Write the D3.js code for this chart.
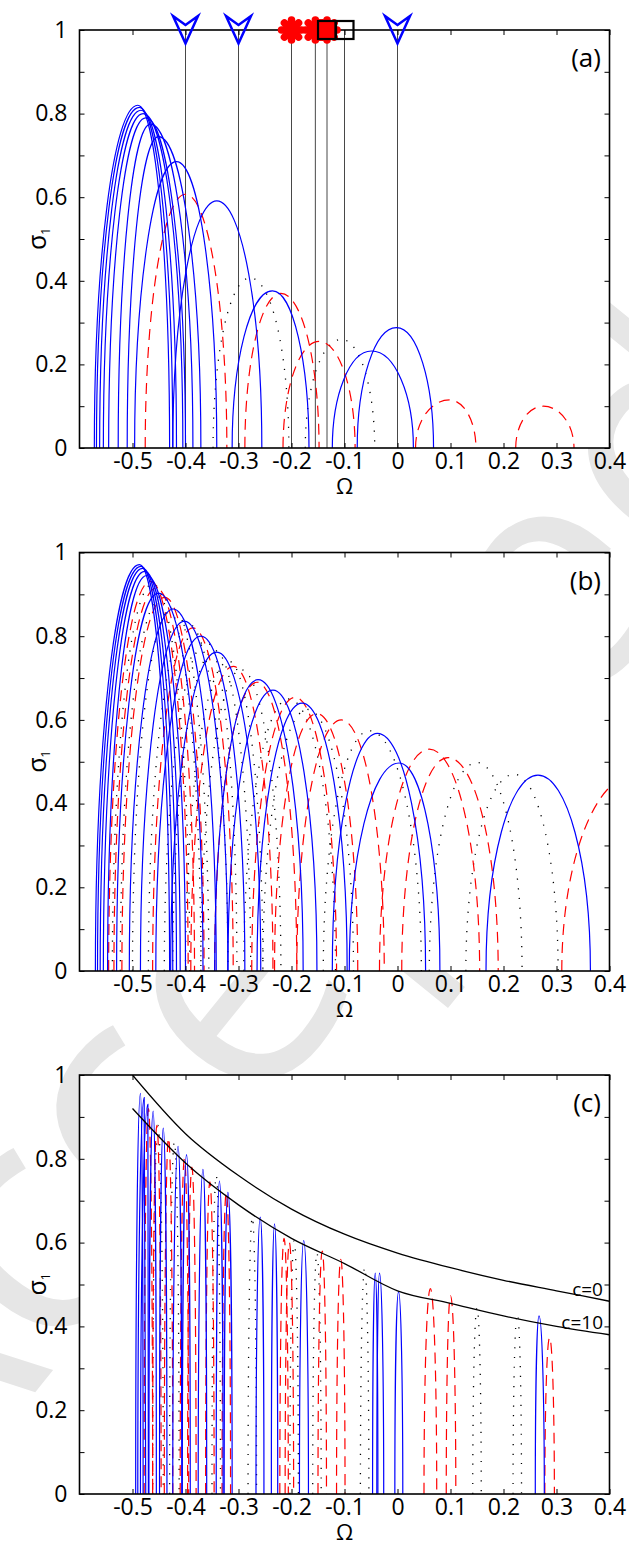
<html>
<head>
<meta charset="utf-8" />
<script src="https://cdn.jsdelivr.net/npm/d3@7/dist/d3.min.js"></script>
<style>
body { margin: 0; background: #fff; }
text { font-family: "Open Sans", "Liberation Sans", sans-serif; }
</style>
</head>
<body>
<svg id="chart" width="629" height="1546"></svg>
<script>

// ---- data ----
// each arch: [left root, peak Omega, right root, peak sigma]
var blueA = [
  [-0.572, -0.490, -0.430, 0.820],
  [-0.568, -0.487, -0.424, 0.815],
  [-0.562, -0.484, -0.417, 0.808],
  [-0.555, -0.480, -0.405, 0.800],
  [-0.545, -0.475, -0.400, 0.790],
  [-0.527, -0.466, -0.386, 0.775],
  [-0.510, -0.451, -0.371, 0.745],
  [-0.496, -0.417, -0.341, 0.685],
  [-0.424, -0.341, -0.256, 0.591],
  [-0.312, -0.236, -0.167, 0.376],
  [-0.123, -0.049, 0.030, 0.232],
  [-0.076, -0.002, 0.068, 0.288]
];
var redA = [
  [-0.476, -0.400, -0.322, 0.607],
  [-0.288, -0.220, -0.148, 0.370],
  [-0.216, -0.148, -0.080, 0.255],
  [0.034, 0.098, 0.148, 0.115],
  [0.223, 0.275, 0.333, 0.100]
];
var dotA = [
  [-0.348, -0.278, -0.205, 0.407],
  [-0.174, -0.106, -0.043, 0.260]
];
var vlinesA = [-0.4, -0.3, -0.2, -0.155, -0.133, -0.1, 0];
var trianglesA = [-0.4, -0.3, 0];
var starsA = [-0.2, -0.155, -0.133];
var squaresA = [-0.133, -0.1];

var blueB = [
  [-0.570, -0.487, -0.430, 0.971],
  [-0.566, -0.484, -0.424, 0.967],
  [-0.561, -0.481, -0.417, 0.962],
  [-0.555, -0.477, -0.410, 0.955],
  [-0.547, -0.473, -0.400, 0.945],
  [-0.530, -0.451, -0.367, 0.903],
  [-0.506, -0.423, -0.342, 0.865],
  [-0.485, -0.402, -0.320, 0.836],
  [-0.456, -0.371, -0.288, 0.800],
  [-0.428, -0.341, -0.258, 0.762],
  [-0.345, -0.263, -0.178, 0.696],
  [-0.320, -0.235, -0.152, 0.671],
  [-0.265, -0.180, -0.095, 0.640],
  [-0.123, -0.038, 0.053, 0.568],
  [-0.091, 0.003, 0.080, 0.497],
  [0.167, 0.265, 0.364, 0.468]
];
var redB = [
  [-0.545, -0.466, -0.395, 0.931],
  [-0.535, -0.455, -0.383, 0.915],
  [-0.520, -0.439, -0.365, 0.893],
  [-0.462, -0.386, -0.310, 0.820],
  [-0.390, -0.310, -0.235, 0.728],
  [-0.345, -0.265, -0.190, 0.690],
  [-0.275, -0.193, -0.115, 0.654],
  [-0.232, -0.152, -0.075, 0.615],
  [-0.190, -0.106, -0.025, 0.600],
  [-0.034, 0.060, 0.155, 0.530],
  [0.008, 0.095, 0.190, 0.510],
  [0.310, 0.450, 0.590, 0.470]
];
var dotB = [
  [-0.538, -0.462, -0.392, 0.925],
  [-0.523, -0.445, -0.371, 0.895],
  [-0.500, -0.425, -0.356, 0.870],
  [-0.470, -0.395, -0.320, 0.830],
  [-0.440, -0.360, -0.303, 0.785],
  [-0.424, -0.345, -0.277, 0.766],
  [-0.400, -0.318, -0.254, 0.740],
  [-0.371, -0.295, -0.220, 0.720],
  [-0.290, -0.205, -0.117, 0.650],
  [-0.254, -0.170, -0.083, 0.625],
  [-0.140, -0.053, 0.045, 0.574],
  [0.060, 0.150, 0.235, 0.498],
  [0.129, 0.220, 0.303, 0.470]
];

var blueC = [
  [-0.494, -0.485, -0.480, 0.956],
  [-0.490, -0.478, -0.475, 0.946],
  [-0.485, -0.471, -0.470, 0.930],
  [-0.469, -0.461, -0.455, 0.914],
  [-0.449, -0.442, -0.435, 0.873],
  [-0.424, -0.414, -0.407, 0.830],
  [-0.406, -0.398, -0.391, 0.810],
  [-0.376, -0.367, -0.360, 0.775],
  [-0.342, -0.336, -0.329, 0.747],
  [-0.327, -0.320, -0.312, 0.720],
  [-0.267, -0.259, -0.252, 0.661],
  [-0.238, -0.232, -0.226, 0.645],
  [-0.185, -0.177, -0.168, 0.605],
  [-0.047, -0.042, -0.037, 0.527],
  [-0.039, -0.034, -0.026, 0.527],
  [-0.005, 0.002, 0.010, 0.483],
  [0.260, 0.267, 0.277, 0.425]
];
var redC = [
  [-0.478, -0.470, -0.462, 0.920],
  [-0.462, -0.454, -0.446, 0.880],
  [-0.440, -0.432, -0.424, 0.850],
  [-0.410, -0.402, -0.394, 0.800],
  [-0.396, -0.388, -0.380, 0.780],
  [-0.362, -0.354, -0.346, 0.745],
  [-0.331, -0.323, -0.315, 0.720],
  [-0.222, -0.214, -0.206, 0.610],
  [-0.212, -0.204, -0.196, 0.600],
  [-0.150, -0.142, -0.134, 0.580],
  [-0.115, -0.107, -0.099, 0.560],
  [0.050, 0.062, 0.074, 0.490],
  [0.092, 0.100, 0.110, 0.473],
  [0.278, 0.287, 0.296, 0.373]
];
var dotC = [
  [-0.462, -0.452, -0.442, 0.880],
  [-0.430, -0.421, -0.412, 0.840],
  [-0.350, -0.342, -0.334, 0.760],
  [-0.282, -0.274, -0.266, 0.660],
  [-0.203, -0.195, -0.187, 0.604],
  [-0.160, -0.152, -0.144, 0.575],
  [-0.070, -0.062, -0.054, 0.540],
  [0.142, 0.150, 0.158, 0.444],
  [0.218, 0.226, 0.234, 0.430]
];
// envelope curves in (c)
var envOmega = [-0.5, -0.4, -0.3, -0.2, -0.1, 0, 0.1, 0.2, 0.3, 0.4];
var envC0  = [1.00, 0.86, 0.76, 0.68, 0.62, 0.575, 0.54, 0.51, 0.485, 0.46];
var envC10 = [0.92, 0.79, 0.69, 0.61, 0.55, 0.485, 0.455, 0.425, 0.40, 0.38];

var xTicks = [-0.5, -0.4, -0.3, -0.2, -0.1, 0, 0.1, 0.2, 0.3, 0.4];
var yTicks = [0, 0.1, 0.2, 0.3, 0.4, 0.5, 0.6, 0.7, 0.8, 0.9, 1];
var yLabelled = [0, 0.2, 0.4, 0.6, 0.8, 1];

// ---- layout ----
var svg = d3.select("#chart");
var left = 79.5, right = 609.5;
var panels = [
  {id: "a", top: 30,    bottom: 448,  blue: blueA, red: redA, dot: dotA},
  {id: "b", top: 552.5, bottom: 971,  blue: blueB, red: redB, dot: dotB},
  {id: "c", top: 1075,  bottom: 1494, blue: blueC, red: redC, dot: dotC}
];

svg.append("rect").attr("width", 629).attr("height", 1546).attr("fill", "#fff");

// faint watermark, sits under the white axes so it only shows in the margins
svg.append("text")
  .attr("transform", "translate(-78,1532) rotate(-51)")
  .attr("text-anchor", "start")
  .attr("font-size", 330)
  .attr("fill", "#e6e6e6")
  .text("Accepted");

function archPath(x, y, d) {
  var l = d[0], p = d[1], r = d[2], h = d[3];
  var k = 0.5523;
  var y0 = y(0), yh = y(h);
  var path = d3.path();
  path.moveTo(x(l), y0);
  path.bezierCurveTo(x(l), y0 + k * (yh - y0), x(p) - k * (x(p) - x(l)), yh, x(p), yh);
  path.bezierCurveTo(x(p) + k * (x(r) - x(p)), yh, x(r), y0 + k * (yh - y0), x(r), y0);
  return path.toString();
}

function fmt(d) { return String(+d.toFixed(1)); }

panels.forEach(function(pn) {
  var x = d3.scaleLinear().domain([-0.6, 0.4]).range([left, right]);
  var y = d3.scaleLinear().domain([0, 1]).range([pn.bottom, pn.top]);
  var g = svg.append("g").attr("class", "panel-" + pn.id);

  // white axes background
  g.append("rect")
    .attr("x", left).attr("y", pn.top)
    .attr("width", right - left).attr("height", pn.bottom - pn.top)
    .attr("fill", "#fff");

  g.append("defs").append("clipPath").attr("id", "clip" + pn.id)
    .append("rect")
    .attr("x", left).attr("y", pn.top)
    .attr("width", right - left).attr("height", pn.bottom - pn.top);

  var plot = g.append("g").attr("clip-path", "url(#clip" + pn.id + ")");

  if (pn.id === "a") {
    plot.selectAll("line.v").data(vlinesA).enter().append("line")
      .attr("class", "v")
      .attr("x1", function(d) { return x(d); }).attr("x2", function(d) { return x(d); })
      .attr("y1", y(1)).attr("y2", y(0))
      .attr("stroke", "#333").attr("stroke-width", 0.9);
  }

  plot.selectAll("path.dot").data(pn.dot).enter().append("path")
    .attr("class", "dot")
    .attr("d", function(d) { return archPath(x, y, d); })
    .attr("fill", "none").attr("stroke", "#000")
    .attr("stroke-width", 1.3).attr("stroke-dasharray", "1.2 8.5");

  plot.selectAll("path.red").data(pn.red).enter().append("path")
    .attr("class", "red")
    .attr("d", function(d) { return archPath(x, y, d); })
    .attr("fill", "none").attr("stroke", "#ff0000")
    .attr("stroke-width", 1.2).attr("stroke-dasharray", "11 7");

  plot.selectAll("path.blue").data(pn.blue).enter().append("path")
    .attr("class", "blue")
    .attr("d", function(d) { return archPath(x, y, d); })
    .attr("fill", "none").attr("stroke", "#0000ff")
    .attr("stroke-width", 1.2);

  if (pn.id === "c") {
    var env = d3.line()
      .x(function(d, i) { return x(envOmega[i]); })
      .y(function(d) { return y(d); })
      .curve(d3.curveMonotoneX);
    plot.append("path").datum(envC0).attr("d", env)
      .attr("fill", "none").attr("stroke", "#000").attr("stroke-width", 1.3);
    plot.append("path").datum(envC10).attr("d", env)
      .attr("fill", "none").attr("stroke", "#000").attr("stroke-width", 1.3);
    g.append("text").attr("x", 603).attr("y", 1296)
      .attr("text-anchor", "end").attr("font-size", 19).text("c=0");
    g.append("text").attr("x", 603).attr("y", 1329)
      .attr("text-anchor", "end").attr("font-size", 19).text("c=10");
  }

  // axes (ticks pointing inward, box drawn separately)
  var axB = g.append("g").attr("transform", "translate(0," + pn.bottom + ")")
    .call(d3.axisBottom(x).tickValues(xTicks).tickSize(-5).tickPadding(5).tickFormat(fmt));
  var axT = g.append("g").attr("transform", "translate(0," + pn.top + ")")
    .call(d3.axisTop(x).tickValues(xTicks).tickSize(-5).tickFormat(""));
  var axL = g.append("g").attr("transform", "translate(" + left + ",0)")
    .call(d3.axisLeft(y).tickValues(yTicks).tickSize(-5).tickPadding(12)
      .tickFormat(function(d) { return yLabelled.indexOf(d) >= 0 ? fmt(d) : ""; }));
  var axR = g.append("g").attr("transform", "translate(" + right + ",0)")
    .call(d3.axisRight(y).tickValues(yTicks).tickSize(-5).tickFormat(""));
  [axB, axT, axL, axR].forEach(function(a) {
    a.select(".domain").remove();
    a.selectAll("line").attr("stroke", "#000").attr("stroke-width", 1);
    a.selectAll("text").attr("font-size", 23).attr("fill", "#000")
      .attr("font-family", "'Open Sans', sans-serif");
  });

  g.append("rect")
    .attr("x", left).attr("y", pn.top)
    .attr("width", right - left).attr("height", pn.bottom - pn.top)
    .attr("fill", "none").attr("stroke", "#000").attr("stroke-width", 1.6);

  // axis titles
  g.append("text").attr("x", (left + right) / 2).attr("y", pn.bottom + 46)
    .attr("text-anchor", "middle").attr("font-size", 22).text("\u03A9");
  var yl = g.append("text")
    .attr("transform", "translate(46," + ((pn.top + pn.bottom) / 2) + ") rotate(-90)")
    .attr("text-anchor", "middle").attr("font-size", 25);
  yl.append("tspan").text("\u03C3");
  yl.append("tspan").attr("font-size", 12).attr("dy", 4).text("1");

  g.append("text").attr("x", 601).attr("y", pn.top + 37)
    .attr("text-anchor", "end").attr("font-size", 26).text("(" + pn.id + ")");

  // markers on top edge of (a)
  if (pn.id === "a") {
    var mk = g.append("g");
    mk.selectAll("path.tri").data(trianglesA).enter().append("path")
      .attr("class", "tri")
      .attr("transform", function(d) { return "translate(" + x(d) + "," + y(1) + ")"; })
      .attr("d", "M-12.5,-14 L0,-5 L12.5,-14 L0,13.5 Z")
      .attr("fill", "none").attr("stroke", "#0000ff").attr("stroke-width", 2.5)
      .attr("stroke-linejoin", "miter");
    mk.selectAll("g.star").data(starsA).enter().append("g")
      .attr("class", "star")
      .attr("transform", function(d) { return "translate(" + x(d) + "," + y(1) + ")"; })
      .each(function() {
        var s = d3.select(this);
        [0, 45, 90, 135].forEach(function(a) {
          s.append("line")
            .attr("x1", -10).attr("x2", 10).attr("y1", 0).attr("y2", 0)
            .attr("transform", "rotate(" + a + ")")
            .attr("stroke", "#ff0000").attr("stroke-width", 7.5)
            .attr("stroke-linecap", "round");
        });
      });
    mk.selectAll("rect.sq").data(squaresA).enter().append("rect")
      .attr("class", "sq")
      .attr("x", function(d) { return x(d) - 9; }).attr("y", y(1) - 9)
      .attr("width", 18).attr("height", 18)
      .attr("fill", "none").attr("stroke", "#000").attr("stroke-width", 2.2);
  }
});

</script>
</body>
</html>
